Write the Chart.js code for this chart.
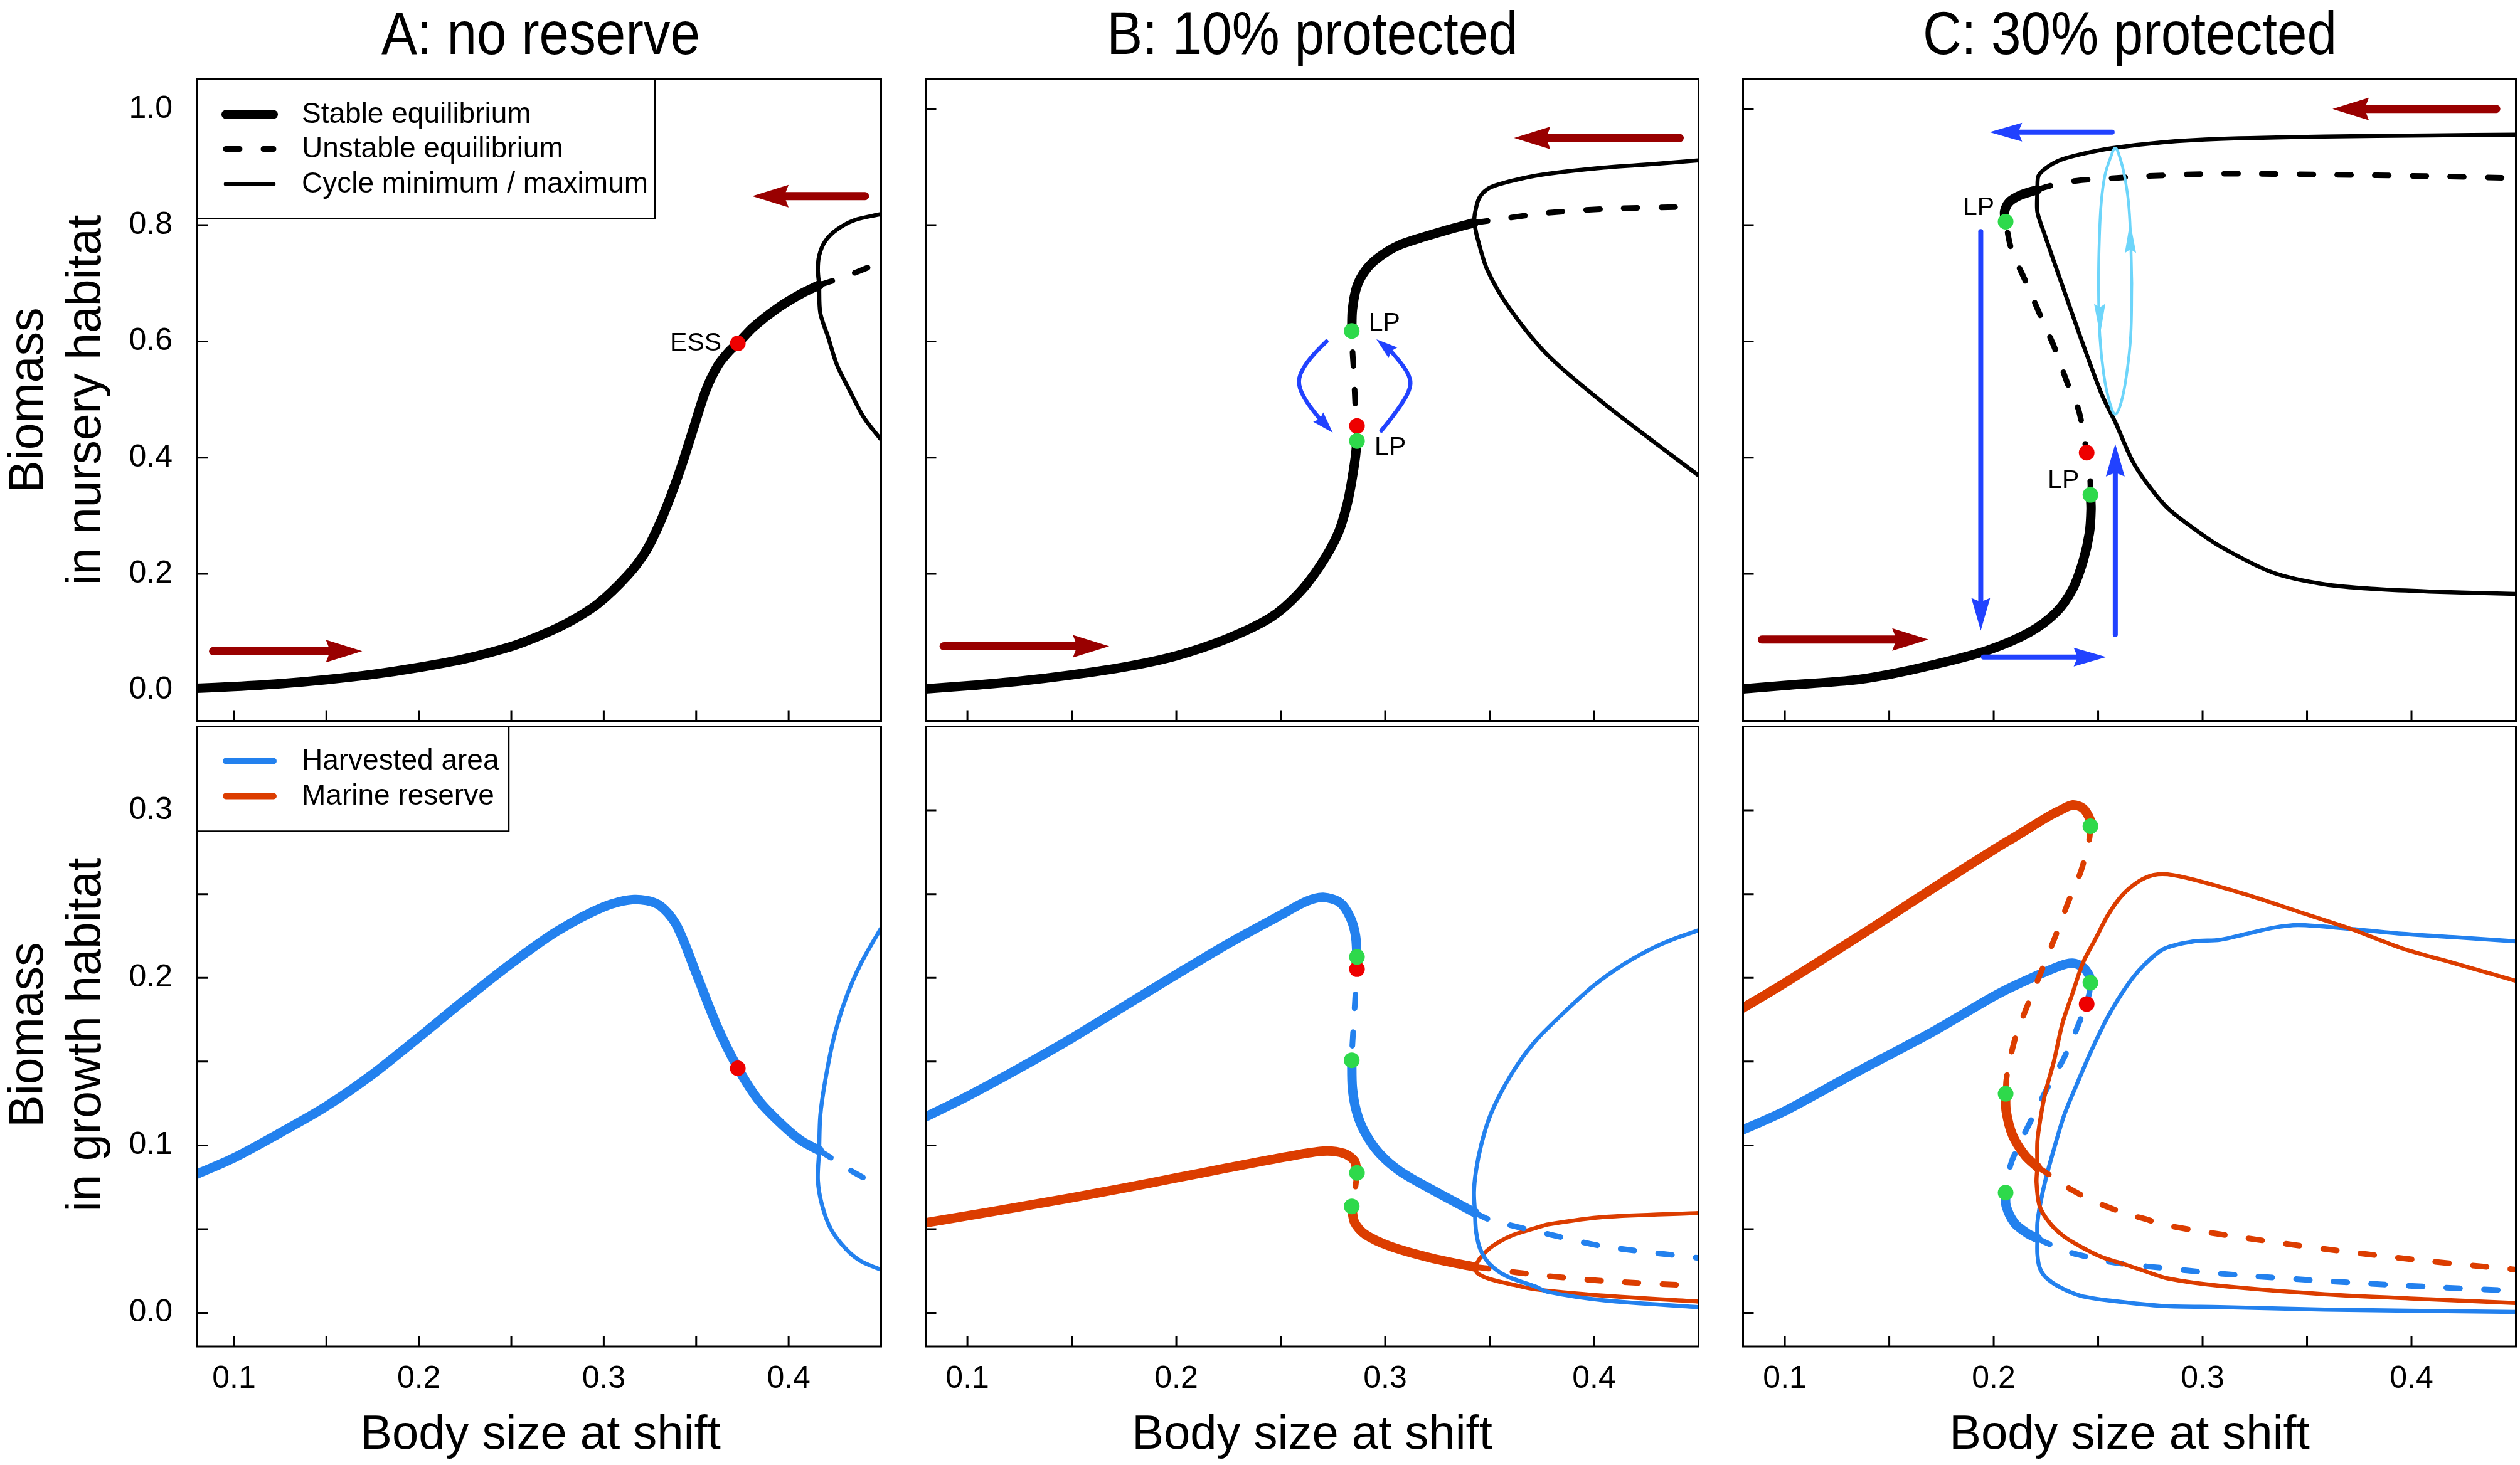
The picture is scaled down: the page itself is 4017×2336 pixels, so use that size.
<!DOCTYPE html>
<html>
<head>
<meta charset="utf-8">
<script src="https://cdn.jsdelivr.net/npm/chart.js@4.4.1/dist/chart.umd.min.js"></script>
<style>
  html, body { margin:0; padding:0; background:#ffffff; }
  body { width:4017px; height:2336px; position:relative; overflow:hidden;
         font-family:"Liberation Sans", Arial, Helvetica, sans-serif; color:#000; }
  .ttl { position:absolute; top:4.7px; width:1200px; text-align:center; font-size:96px; line-height:96px;
         white-space:nowrap; transform:scaleX(0.89); transform-origin:50% 50%; }
  .xt { position:absolute; top:2245.7px; width:1000px; text-align:center; font-size:76px; line-height:76px; white-space:nowrap; }
  .yt { position:absolute; width:1100px; height:184px; text-align:center; font-size:77px; line-height:92px;
        white-space:nowrap; transform:rotate(-90deg); transform-origin:50% 50%; }
</style>
</head>
<body>
<div class="ttl" style="left:261.5px">A: no reserve</div>
<div class="ttl" style="left:1491.5px">B: 10% protected</div>
<div class="ttl" style="left:2794.5px">C: 30% protected</div>
<div class="yt" style="left:-462.7px; top:546px;">Biomass<br>in nursery habitat</div>
<div class="yt" style="left:-462.7px; top:1558px;">Biomass<br>in growth habitat</div>
<div class="xt" style="left:361.5px">Body size at shift</div>
<div class="xt" style="left:1591.5px">Body size at shift</div>
<div class="xt" style="left:2894.5px">Body size at shift</div>
<script>
// ---------------- DATA ----------------
const xTickValues = [0.10, 0.15, 0.20, 0.25, 0.30, 0.35, 0.40];
const xLabeled = [0.1, 0.2, 0.3, 0.4];
const yTicksNursery = [0.0, 0.2, 0.4, 0.6, 0.8, 1.0];
const yTicksGrowth = [0.0, 0.05, 0.10, 0.15, 0.20, 0.25, 0.30];
const yLabeledGrowth = [0.0, 0.1, 0.2, 0.3];
const legendNursery = ['Stable equilibrium', 'Unstable equilibrium', 'Cycle minimum / maximum'];
const legendGrowth = ['Harvested area', 'Marine reserve'];

// Panel A, nursery habitat
const aNurStable = [[0.08,0.003],[0.10,0.006],[0.125,0.011],[0.15,0.018],[0.175,0.027],[0.20,0.039],[0.225,0.054],[0.25,0.075],[0.265,0.093],[0.2808,0.1164],[0.297,0.149],[0.3131,0.198],[0.3228,0.239],[0.3293,0.280],[0.3357,0.3295],[0.3422,0.387],[0.3487,0.452],[0.3551,0.515],[0.3616,0.558],[0.368,0.5836],[0.3725,0.5967],[0.3809,0.6246],[0.3939,0.657],[0.4068,0.682],[0.4165,0.697]];
const aNurUnstable = [[0.4165,0.697],[0.43,0.711],[0.4435,0.728]];
const aNurCycleMax = [[0.4165,0.697],[0.4158,0.723],[0.4165,0.7475],[0.4197,0.772],[0.4262,0.7926],[0.4359,0.809],[0.4497,0.819]];
const aNurCycleMin = [[0.4165,0.697],[0.4171,0.649],[0.4213,0.608],[0.4262,0.559],[0.4326,0.518],[0.4407,0.469],[0.4497,0.432]];
const aNurESS = [[0.3725,0.5967]];
// Panel A, growth habitat
const aGroBlueStable = [[0.08,0.0829],[0.10,0.0926],[0.125,0.1075],[0.15,0.1234],[0.175,0.1425],[0.20,0.1645],[0.225,0.187],[0.25,0.2086],[0.275,0.228],[0.30,0.2424],[0.3164,0.2468],[0.3293,0.2439],[0.339,0.2321],[0.35,0.2027],[0.3616,0.1704],[0.3725,0.1463],[0.3842,0.1263],[0.3971,0.1117],[0.4068,0.1028],[0.4165,0.097]];
const aGroBlueUnstable = [[0.4165,0.097],[0.4229,0.0926],[0.4305,0.087],[0.4413,0.0802]];
const aGroBlueCycleMax = [[0.4165,0.097],[0.4171,0.1175],[0.4197,0.1381],[0.4245,0.1645],[0.431,0.188],[0.4391,0.2086],[0.4497,0.2292]];
const aGroBlueCycleMin = [[0.4165,0.097],[0.4158,0.0793],[0.418,0.0646],[0.4229,0.05],[0.431,0.0382],[0.4391,0.0309],[0.4497,0.0259]];
const aGroESS = [[0.3725,0.146]];

// Panel B, nursery habitat
const bNurStableLow = [[0.08,0.002],[0.10,0.0074],[0.1253,0.0156],[0.15,0.0262],[0.1759,0.0402],[0.20,0.059],[0.2238,0.0877],[0.2451,0.1246],[0.2584,0.1656],[0.269,0.2148],[0.2775,0.27],[0.2818,0.32],[0.284,0.36],[0.2857,0.40],[0.2865,0.4287]];
const bNurUnstableMid = [[0.2865,0.4287],[0.2862,0.455],[0.2857,0.49],[0.2849,0.552],[0.2844,0.58],[0.284,0.618]];
const bNurStableUp = [[0.284,0.618],[0.2843,0.654],[0.2863,0.693],[0.2903,0.721],[0.2963,0.743],[0.3063,0.765],[0.3196,0.781],[0.3329,0.795],[0.3425,0.804]];
const bNurUnstableUp = [[0.3425,0.804],[0.36,0.813],[0.3782,0.8213],[0.4048,0.828],[0.4498,0.832]];
const bNurCycleMax = [[0.3425,0.804],[0.343,0.821],[0.3449,0.846],[0.3489,0.862],[0.3542,0.870],[0.3649,0.880],[0.3782,0.8885],[0.4048,0.899],[0.4314,0.906],[0.4498,0.9115]];
const bNurCycleMin = [[0.3425,0.804],[0.343,0.797],[0.344,0.780],[0.3489,0.723],[0.3595,0.657],[0.3782,0.575],[0.4048,0.493],[0.4314,0.4197],[0.4498,0.370]];
const bNurLP = [[0.284,0.618],[0.2865,0.4287]];
const bNurESS = [[0.2865,0.4544]];
// Panel B, growth habitat
const bGroBlueStableUp = [[0.08,0.117],[0.10,0.1293],[0.125,0.1462],[0.15,0.164],[0.175,0.183],[0.20,0.202],[0.225,0.2205],[0.25,0.2375],[0.2625,0.2458],[0.2704,0.2481],[0.2784,0.2449],[0.2833,0.236],[0.2858,0.2253],[0.2865,0.2125]];
const bGroBlueUnstableMid = [[0.2865,0.2125],[0.2858,0.1914],[0.2843,0.1602],[0.284,0.1508]];
const bGroBlueStableLow = [[0.284,0.1508],[0.2843,0.1344],[0.2863,0.1201],[0.2903,0.1077],[0.2973,0.0952],[0.3072,0.0845],[0.3221,0.0738],[0.343,0.0598]];
const bGroBlueUnstableLow = [[0.343,0.0598],[0.3494,0.056],[0.3589,0.0527],[0.3658,0.0506],[0.3782,0.047],[0.4048,0.0397],[0.4498,0.0329]];
const bGroBlueCycleMax = [[0.343,0.0598],[0.3425,0.072],[0.3435,0.085],[0.346,0.1005],[0.3499,0.1166],[0.3559,0.1326],[0.3638,0.149],[0.3728,0.1635],[0.3862,0.180],[0.3995,0.195],[0.4128,0.207],[0.4261,0.2165],[0.4367,0.2225],[0.4498,0.2283]];
const bGroBlueCycleMin = [[0.343,0.0598],[0.3435,0.0488],[0.3455,0.0381],[0.35,0.0292],[0.3579,0.0221],[0.3718,0.0158],[0.3782,0.0125],[0.4048,0.0075],[0.4498,0.0035]];
const bGroRedStableUp = [[0.08,0.0538],[0.10,0.058],[0.125,0.0633],[0.15,0.0688],[0.175,0.0746],[0.20,0.0806],[0.225,0.0867],[0.2525,0.0932],[0.2704,0.0966],[0.2803,0.0952],[0.2853,0.0907],[0.2865,0.0836]];
const bGroRedUnstableMid = [[0.2865,0.0836],[0.2858,0.0756],[0.284,0.0636]];
const bGroRedStableLow = [[0.284,0.0636],[0.2853,0.0542],[0.2903,0.047],[0.3022,0.0399],[0.3221,0.0328],[0.343,0.0274]];
const bGroRedUnstableLow = [[0.343,0.0274],[0.3494,0.0265],[0.3628,0.0242],[0.3782,0.022],[0.4048,0.0191],[0.4498,0.0162]];
const bGroRedCycleMax = [[0.343,0.0274],[0.3455,0.0328],[0.3514,0.0399],[0.3604,0.0461],[0.3718,0.0506],[0.3782,0.0529],[0.4048,0.0573],[0.4498,0.0596]];
const bGroRedCycleMin = [[0.343,0.0274],[0.344,0.0239],[0.35,0.0203],[0.3619,0.0167],[0.3718,0.0141],[0.4048,0.0103],[0.4498,0.0068]];
const bGroLP = [[0.2865,0.2125],[0.284,0.1508],[0.2865,0.0836],[0.284,0.0636]];
const bGroESS = [[0.2865,0.2052]];

// Panel C, nursery habitat
const cNurStableLow = [[0.08,0.002],[0.10,0.008],[0.1324,0.017],[0.15,0.027],[0.1722,0.0444],[0.197,0.0683],[0.2169,0.099],[0.2298,0.1334],[0.2378,0.174],[0.2428,0.222],[0.2458,0.270],[0.2466,0.311],[0.2463,0.336]];
const cNurUnstableMid = [[0.2463,0.336],[0.2462,0.36],[0.2445,0.4086],[0.2408,0.48],[0.2353,0.528],[0.2293,0.5875],[0.2224,0.644],[0.2154,0.7023],[0.2085,0.7584],[0.2057,0.806]];
const cNurStableUp = [[0.2057,0.806],[0.2052,0.823],[0.2075,0.840],[0.213,0.852],[0.2209,0.861]];
const cNurUnstableUp = [[0.2209,0.861],[0.2269,0.8676],[0.2398,0.8765],[0.2577,0.881],[0.2746,0.8847],[0.3083,0.8885],[0.3584,0.887],[0.4085,0.8844],[0.4498,0.881]];
const cNurCycleMax = [[0.2209,0.861],[0.2214,0.8846],[0.2249,0.898],[0.2318,0.912],[0.2418,0.9222],[0.2567,0.9325],[0.2815,0.9428],[0.3083,0.9484],[0.3584,0.9525],[0.4085,0.9545],[0.4498,0.9557]];
const cNurCycleMin = [[0.2209,0.861],[0.2209,0.823],[0.2239,0.789],[0.2318,0.707],[0.2418,0.6047],[0.2517,0.509],[0.2582,0.461],[0.2666,0.393],[0.2746,0.35],[0.2833,0.313],[0.2958,0.278],[0.3083,0.2475],[0.3334,0.2025],[0.3584,0.182],[0.3835,0.1738],[0.4085,0.1697],[0.4498,0.1656]];
const cNurOrbit = [[0.2661,0.70],[0.2655,0.78],[0.2645,0.84],[0.2626,0.885],[0.2605,0.915],[0.2582,0.9325],[0.2558,0.915],[0.2532,0.885],[0.2515,0.84],[0.2506,0.78],[0.2502,0.70],[0.2508,0.61],[0.2527,0.543],[0.2555,0.495],[0.2582,0.4748],[0.261,0.495],[0.2636,0.543],[0.2656,0.61],[0.2661,0.70]];
const cNurLP = [[0.2057,0.806],[0.2463,0.336]];
const cNurESS = [[0.2445,0.4086]];
// Panel C, growth habitat
const cGroRedStableUp = [[0.08,0.182],[0.10,0.197],[0.1325,0.2225],[0.15,0.2365],[0.1722,0.2545],[0.20,0.2765],[0.212,0.2855],[0.225,0.2955],[0.2318,0.300],[0.2378,0.3032],[0.2428,0.3012],[0.2463,0.294],[0.2463,0.2905]];
const cGroRedUnstableMid = [[0.2463,0.2905],[0.2458,0.283],[0.2418,0.2638],[0.2358,0.2456],[0.2294,0.2244],[0.2229,0.2042],[0.216,0.183],[0.2105,0.1648],[0.207,0.1466],[0.206,0.1385],[0.2057,0.1308]];
const cGroRedStableLow = [[0.2057,0.1308],[0.206,0.1203],[0.209,0.1062],[0.215,0.094],[0.2209,0.087]];
const cGroRedUnstableLow = [[0.2209,0.087],[0.2249,0.0839],[0.2329,0.0769],[0.2398,0.0718],[0.2477,0.0668],[0.2557,0.0627],[0.2646,0.0587],[0.2726,0.0561],[0.2815,0.0526],[0.3083,0.047],[0.3584,0.0382],[0.4085,0.0309],[0.4498,0.0259]];
const cGroRedCycleMax = [[0.2209,0.087],[0.2209,0.1021],[0.2224,0.1163],[0.2249,0.1324],[0.2289,0.1506],[0.2329,0.1728],[0.2378,0.191],[0.2428,0.2092],[0.2488,0.2234],[0.2547,0.2375],[0.2617,0.2496],[0.2696,0.2577],[0.2766,0.2614],[0.2833,0.2618],[0.2958,0.2586],[0.3209,0.2497],[0.3459,0.2395],[0.371,0.2292],[0.396,0.2174],[0.421,0.2086],[0.4498,0.1983]];
const cGroRedCycleMin = [[0.2209,0.087],[0.2205,0.0779],[0.222,0.0637],[0.2269,0.0536],[0.2338,0.0455],[0.2418,0.0395],[0.2517,0.0334],[0.2617,0.0294],[0.2716,0.0253],[0.2833,0.0206],[0.3083,0.0162],[0.3584,0.0112],[0.4085,0.0082],[0.4498,0.0059]];
const cGroBlueStableUp = [[0.08,0.1093],[0.10,0.1205],[0.1325,0.1425],[0.15,0.154],[0.1722,0.1688],[0.20,0.189],[0.212,0.1965],[0.2318,0.2072],[0.2378,0.2088],[0.2428,0.2062],[0.2458,0.2011],[0.2463,0.1971]];
const cGroBlueUnstableMid = [[0.2463,0.1971],[0.2458,0.191],[0.2448,0.187],[0.2408,0.1728],[0.2338,0.1526],[0.2249,0.1324],[0.218,0.1153],[0.212,0.1001],[0.2085,0.09],[0.206,0.0779],[0.2057,0.0718]];
const cGroBlueStableLow = [[0.2057,0.0718],[0.206,0.0637],[0.21,0.0536],[0.216,0.0476],[0.2209,0.0445]];
const cGroBlueUnstableLow = [[0.2209,0.0445],[0.2259,0.0415],[0.2358,0.0365],[0.2418,0.0344],[0.2517,0.0314],[0.2617,0.0294],[0.2766,0.0274],[0.3083,0.0235],[0.3584,0.0191],[0.4085,0.0156],[0.4498,0.0132]];
const cGroBlueCycleMax = [[0.2209,0.0445],[0.2209,0.0536],[0.2224,0.0658],[0.2249,0.0799],[0.2289,0.0981],[0.2338,0.1183],[0.2398,0.1365],[0.2468,0.1567],[0.2547,0.1769],[0.2637,0.1951],[0.2716,0.2072],[0.2815,0.2173],[0.2958,0.2218],[0.3083,0.2227],[0.3209,0.2262],[0.3334,0.2298],[0.3459,0.2315],[0.371,0.2292],[0.396,0.2263],[0.421,0.2242],[0.4498,0.2218]];
const cGroBlueCycleMin = [[0.2209,0.0445],[0.2209,0.0354],[0.2219,0.0274],[0.2249,0.0213],[0.2318,0.0153],[0.2418,0.0102],[0.2567,0.0072],[0.2815,0.0041],[0.3083,0.0035],[0.3584,0.002],[0.4498,0.0006]];
const cGroLP = [[0.2463,0.2905],[0.2463,0.1971],[0.2057,0.1308],[0.2057,0.0718]];
const cGroESS = [[0.2445,0.1844]];

// Annotation arrows (data coordinates: tail ... tip)
const aArrowRight = [[0.0887,0.067],[0.1694,0.067]];
const aArrowLeft = [[0.4413,0.85],[0.3803,0.85]];
const bArrowRight = [[0.0886,0.0754],[0.1679,0.0754]];
const bArrowLeft = [[0.441,0.95],[0.3617,0.95]];
const bCurveDown = [[0.2719,0.600],[0.2655,0.578],[0.2595,0.548],[0.2583,0.526],[0.2615,0.50],[0.2675,0.4715],[0.2749,0.443]];
const bCurveUp = [[0.2982,0.4465],[0.3062,0.482],[0.3127,0.5214],[0.3112,0.5465],[0.3032,0.582],[0.2958,0.6036]];
const cArrowRight = [[0.089,0.0869],[0.1688,0.0869]];
const cArrowLeft = [[0.4406,1.0],[0.3622,1.0]];
const cJumpLeft = [[0.2567,0.960],[0.198,0.960]];
const cJumpDown = [[0.1938,0.789],[0.1938,0.1025]];
const cJumpRight = [[0.1951,0.0568],[0.2539,0.0568]];
const cJumpUp = [[0.2582,0.0957],[0.2582,0.4236]];
const cOrbitHeadUp = [[0.2655,0.74],[0.2653,0.806]];
const cOrbitHeadDown = [[0.2507,0.68],[0.2509,0.611]];

// ---------------- STYLE / LAYOUT ----------------
const FONT = '"Liberation Sans", Arial, Helvetica, sans-serif';
const BLACK = '#000000', BLUE = '#2381EE', ORANGE = '#DC3D00', GREEN = '#2ED94B', RED = '#EE0000';
const DARKRED = '#990000', ARROWBLUE = '#2142FF', LIGHTBLUE = '#6DD5FA';
const LW = { stable: 15, dash: 9, cycle: 6.5 };
const DASH = [22, 38];
const X_MIN = 0.08, X_MAX = 0.45;
const Y_NUR = [-0.053, 1.051], Y_GRO = [-0.02, 0.35];
const COLS = [{ l: 314, r: 1409 }, { l: 1471, r: 2712 }, { l: 2774, r: 4015 }];
const ROWS = [{ t: 122, b: 1154 }, { t: 1154, b: 2147 }];

const toXY = arr => arr.map(p => ({ x: p[0], y: p[1] }));
function curve(arr, color, kind) {
  return { data: toXY(arr), borderColor: color, backgroundColor: color, borderWidth: LW[kind],
    borderDash: kind === 'dash' ? DASH : [], borderCapStyle: 'round', borderJoinStyle: 'round',
    pointRadius: 0, pointHoverRadius: 0, fill: false, tension: 0.3, order: 2 };
}
function dots(arr, color) {
  return { data: toXY(arr), showLine: false, pointRadius: 12.5, pointHoverRadius: 12.5,
    pointBackgroundColor: color, pointBorderColor: color, pointBorderWidth: 0, order: 0 };
}
function arrow(pts, color, width, headLen, headW) { return { pts, color, width, headLen, headW }; }
const redArrow = pts => arrow(pts, DARKRED, 13, 58, 36);
const blueArrow = pts => arrow(pts, ARROWBLUE, 8, 52, 30);

function drawArrow(ctx, xs, ys, a) {
  const P = a.pts.map(p => [xs.getPixelForValue(p[0]), ys.getPixelForValue(p[1])]);
  const n = P.length, tip = P[n - 1], prev = P[n - 2];
  const L = Math.hypot(tip[0] - prev[0], tip[1] - prev[1]);
  const ux = (tip[0] - prev[0]) / L, uy = (tip[1] - prev[1]) / L;
  const nx = -uy, ny = ux;
  const base = [tip[0] - ux * a.headLen * 0.8, tip[1] - uy * a.headLen * 0.8];
  ctx.save();
  ctx.strokeStyle = a.color; ctx.fillStyle = a.color;
  if (a.width > 0) {
    const Q = P.slice(0, n - 1).concat([base]);
    ctx.lineWidth = a.width; ctx.lineCap = 'round'; ctx.lineJoin = 'round';
    ctx.beginPath(); ctx.moveTo(Q[0][0], Q[0][1]);
    if (Q.length === 2) { ctx.lineTo(Q[1][0], Q[1][1]); }
    else {
      for (let i = 1; i < Q.length - 1; i++) {
        const mx = (Q[i][0] + Q[i + 1][0]) / 2, my = (Q[i][1] + Q[i + 1][1]) / 2;
        if (i === Q.length - 2) ctx.quadraticCurveTo(Q[i][0], Q[i][1], Q[i + 1][0], Q[i + 1][1]);
        else ctx.quadraticCurveTo(Q[i][0], Q[i][1], mx, my);
      }
    }
    ctx.stroke();
  }
  const hl = a.headLen, hw = a.headW / 2;
  ctx.beginPath();
  ctx.moveTo(tip[0], tip[1]);
  ctx.lineTo(tip[0] - ux * hl + nx * hw, tip[1] - uy * hl + ny * hw);
  ctx.lineTo(tip[0] - ux * hl * 0.88, tip[1] - uy * hl * 0.88);
  ctx.lineTo(tip[0] - ux * hl - nx * hw, tip[1] - uy * hl - ny * hw);
  ctx.closePath(); ctx.fill();
  ctx.restore();
}

function decoPlugin(cfg) {
  return {
    id: 'deco',
    afterDatasetsDraw(chart) {
      const { ctx, scales: { x, y } } = chart;
      (cfg.arrows || []).forEach(a => drawArrow(ctx, x, y, a));
      ctx.save();
      ctx.fillStyle = '#000'; ctx.font = '41px ' + FONT; ctx.textBaseline = 'middle';
      (cfg.labels || []).forEach(l => {
        ctx.textAlign = l.align;
        ctx.fillText(l.text, x.getPixelForValue(l.at[0]) + l.dx, y.getPixelForValue(l.at[1]) + l.dy);
      });
      ctx.restore();
    },
    afterDraw(chart) {
      const { ctx, chartArea: a, scales: { x, y } } = chart;
      ctx.save();
      ctx.strokeStyle = '#000'; ctx.lineWidth = 3; ctx.lineCap = 'butt';
      ctx.beginPath();
      x.ticks.forEach(t => { const px = x.getPixelForValue(t.value); ctx.moveTo(px, a.bottom); ctx.lineTo(px, a.bottom - 17); });
      y.ticks.forEach(t => { const py = y.getPixelForValue(t.value); ctx.moveTo(a.left, py); ctx.lineTo(a.left + 17, py); });
      ctx.stroke();
      ctx.strokeRect(a.left, a.top, a.right - a.left, a.bottom - a.top);
      if (cfg.legend) {
        const L = cfg.legend;
        ctx.fillStyle = '#fff';
        ctx.fillRect(a.left, a.top, L.w, L.h);
        ctx.lineWidth = 2.5;
        ctx.strokeRect(a.left, a.top, L.w, L.h);
        L.rows.forEach((r, i) => {
          const yy = a.top + L.rowY[i];
          ctx.beginPath();
          ctx.strokeStyle = r.color; ctx.lineWidth = r.width; ctx.lineCap = 'round';
          ctx.setLineDash(r.dash || []);
          ctx.moveTo(a.left + 46, yy); ctx.lineTo(a.left + 122, yy);
          ctx.stroke();
          ctx.setLineDash([]);
          ctx.fillStyle = '#000'; ctx.font = '46px ' + FONT;
          ctx.textAlign = 'left'; ctx.textBaseline = 'middle';
          ctx.fillText(r.label, a.left + 167, yy + 1);
        });
      }
      ctx.restore();
    }
  };
}

function makePanel(colIdx, rowIdx, datasets, cfg) {
  const col = COLS[colIdx], row = ROWS[rowIdx];
  const padL = colIdx === 0 ? 150 : 8, padR = 8, padT = 8, padB = rowIdx === 1 ? 100 : 8;
  const w = col.r - col.l + padL + padR, h = row.b - row.t + padT + padB;
  const cv = document.createElement('canvas');
  cv.width = w; cv.height = h;
  cv.style.cssText = `position:absolute;left:${col.l - padL}px;top:${row.t - padT}px;width:${w}px;height:${h}px;`;
  document.body.appendChild(cv);
  const growth = rowIdx === 1;
  const yTicks = growth ? yTicksGrowth : yTicksNursery;
  const yLab = growth ? yLabeledGrowth : yTicksNursery;
  const yr = growth ? Y_GRO : Y_NUR;
  const has = (list, v) => list.some(l => Math.abs(l - v) < 1e-9);
  const noPad = s => { s.paddingTop = 0; s.paddingBottom = 0; s.paddingLeft = 0; s.paddingRight = 0; };
  new Chart(cv, {
    type: 'line',
    data: { datasets },
    options: {
      responsive: false, animation: false, devicePixelRatio: 1,
      layout: { padding: { left: 0, right: padR, top: padT, bottom: 0 } },
      plugins: { legend: { display: false }, tooltip: { enabled: false }, title: { display: false } },
      elements: { line: { capBezierPoints: false } },
      scales: {
        x: { type: 'linear', min: X_MIN, max: X_MAX,
          grid: { display: false }, border: { display: false },
          ticks: { display: growth, autoSkip: false, maxRotation: 0, minRotation: 0, padding: 14,
            color: '#000', font: { family: FONT, size: 50 },
            callback: v => has(xLabeled, v) ? v.toFixed(1) : '' },
          afterBuildTicks: s => { s.ticks = xTickValues.map(v => ({ value: v })); },
          afterFit: s => { s.height = padB; noPad(s); } },
        y: { type: 'linear', min: yr[0], max: yr[1],
          grid: { display: false }, border: { display: false },
          ticks: { display: colIdx === 0, autoSkip: false, padding: 31,
            color: '#000', font: { family: FONT, size: 50 },
            callback: v => has(yLab, v) ? v.toFixed(1) : '' },
          afterBuildTicks: s => { s.ticks = yTicks.map(v => ({ value: v })); },
          afterFit: s => { s.width = padL; noPad(s); } }
      }
    },
    plugins: [decoPlugin(cfg)]
  });
}

// ---------------- PANELS ----------------
// A: no reserve
makePanel(0, 0, [
  dots(aNurESS, RED),
  curve(aNurStable, BLACK, 'stable'),
  curve(aNurUnstable, BLACK, 'dash'),
  curve(aNurCycleMax, BLACK, 'cycle'),
  curve(aNurCycleMin, BLACK, 'cycle')
], {
  arrows: [redArrow(aArrowRight), redArrow(aArrowLeft)],
  labels: [{ text: 'ESS', at: aNurESS[0], dx: -26, dy: 0, align: 'right' }],
  legend: { w: 730, h: 222, rowY: [56, 111, 167], rows: [
    { label: legendNursery[0], color: BLACK, width: 14 },
    { label: legendNursery[1], color: BLACK, width: 9, dash: DASH },
    { label: legendNursery[2], color: BLACK, width: 6.5 } ] }
});
makePanel(0, 1, [
  dots(aGroESS, RED),
  curve(aGroBlueStable, BLUE, 'stable'),
  curve(aGroBlueUnstable, BLUE, 'dash'),
  curve(aGroBlueCycleMax, BLUE, 'cycle'),
  curve(aGroBlueCycleMin, BLUE, 'cycle')
], {
  legend: { w: 497, h: 167, rowY: [55, 111], rows: [
    { label: legendGrowth[0], color: BLUE, width: 10 },
    { label: legendGrowth[1], color: ORANGE, width: 10 } ] }
});

// B: 10% protected
makePanel(1, 0, [
  dots(bNurLP, GREEN),
  dots(bNurESS, RED),
  curve(bNurStableLow, BLACK, 'stable'),
  curve(bNurUnstableMid, BLACK, 'dash'),
  curve(bNurStableUp, BLACK, 'stable'),
  curve(bNurUnstableUp, BLACK, 'dash'),
  curve(bNurCycleMax, BLACK, 'cycle'),
  curve(bNurCycleMin, BLACK, 'cycle')
], {
  arrows: [redArrow(bArrowRight), redArrow(bArrowLeft),
    arrow(bCurveDown, ARROWBLUE, 6.5, 34, 22), arrow(bCurveUp, ARROWBLUE, 6.5, 34, 22)],
  labels: [{ text: 'LP', at: bNurLP[0], dx: 27, dy: -12, align: 'left' },
           { text: 'LP', at: bNurLP[1], dx: 28, dy: 11, align: 'left' }]
});
makePanel(1, 1, [
  dots(bGroLP, GREEN),
  dots(bGroESS, RED),
  curve(bGroBlueStableUp, BLUE, 'stable'),
  curve(bGroBlueUnstableMid, BLUE, 'dash'),
  curve(bGroBlueStableLow, BLUE, 'stable'),
  curve(bGroBlueUnstableLow, BLUE, 'dash'),
  curve(bGroBlueCycleMax, BLUE, 'cycle'),
  curve(bGroBlueCycleMin, BLUE, 'cycle'),
  curve(bGroRedStableUp, ORANGE, 'stable'),
  curve(bGroRedUnstableMid, ORANGE, 'dash'),
  curve(bGroRedStableLow, ORANGE, 'stable'),
  curve(bGroRedUnstableLow, ORANGE, 'dash'),
  curve(bGroRedCycleMax, ORANGE, 'cycle'),
  curve(bGroRedCycleMin, ORANGE, 'cycle')
], {});

// C: 30% protected
const orbitSet = Object.assign(curve(cNurOrbit, LIGHTBLUE, 'cycle'), { borderWidth: 4.5, tension: 0.4, order: 1 });
makePanel(2, 0, [
  dots(cNurLP, GREEN),
  dots(cNurESS, RED),
  orbitSet,
  curve(cNurStableLow, BLACK, 'stable'),
  curve(cNurUnstableMid, BLACK, 'dash'),
  curve(cNurStableUp, BLACK, 'stable'),
  curve(cNurUnstableUp, BLACK, 'dash'),
  curve(cNurCycleMax, BLACK, 'cycle'),
  curve(cNurCycleMin, BLACK, 'cycle')
], {
  arrows: [redArrow(cArrowRight), redArrow(cArrowLeft),
    blueArrow(cJumpLeft), blueArrow(cJumpDown), blueArrow(cJumpRight), blueArrow(cJumpUp),
    arrow(cOrbitHeadUp, LIGHTBLUE, 0, 50, 18), arrow(cOrbitHeadDown, LIGHTBLUE, 0, 50, 18)],
  labels: [{ text: 'LP', at: cNurLP[0], dx: -18, dy: -22, align: 'right' },
           { text: 'LP', at: cNurLP[1], dx: -18, dy: -22, align: 'right' }]
});
makePanel(2, 1, [
  dots(cGroLP, GREEN),
  dots(cGroESS, RED),
  curve(cGroRedStableUp, ORANGE, 'stable'),
  curve(cGroRedUnstableMid, ORANGE, 'dash'),
  curve(cGroRedStableLow, ORANGE, 'stable'),
  curve(cGroRedUnstableLow, ORANGE, 'dash'),
  curve(cGroRedCycleMax, ORANGE, 'cycle'),
  curve(cGroRedCycleMin, ORANGE, 'cycle'),
  curve(cGroBlueStableUp, BLUE, 'stable'),
  curve(cGroBlueUnstableMid, BLUE, 'dash'),
  curve(cGroBlueStableLow, BLUE, 'stable'),
  curve(cGroBlueUnstableLow, BLUE, 'dash'),
  curve(cGroBlueCycleMax, BLUE, 'cycle'),
  curve(cGroBlueCycleMin, BLUE, 'cycle')
], {});
</script>
</body>
</html>
